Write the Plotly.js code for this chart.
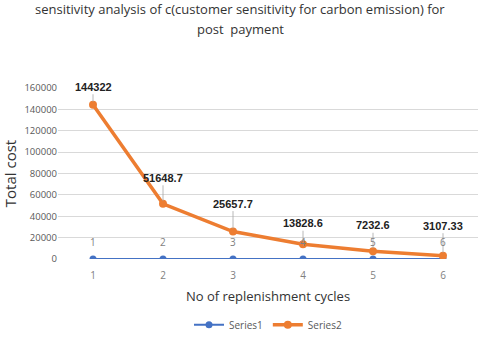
<!DOCTYPE html>
<html>
<head>
<meta charset="utf-8">
<script src="https://cdn.plot.ly/plotly-3.0.1.min.js"></script>
<style>
  html, body { margin: 0; padding: 0; background: #fff; }
  #plotArea { width: 480px; height: 340px; }
</style>
</head>
<body>
<div id="plotArea"></div>
<script>
// data
var cycles = [1, 2, 3, 4, 5, 6];
var series1 = [1, 2, 3, 4, 5, 6];
var series2 = [144322, 51648.7, 25657.7, 13828.6, 7232.6, 3107.33];
var series2Labels = ["144322", "51648.7", "25657.7", "13828.6", "7232.6", "3107.33"];
var yTicks = [0, 20000, 40000, 60000, 80000, 100000, 120000, 140000, 160000];
var titleLines = ["sensitivity analysis of c(customer sensitivity for carbon emission) for", "post  payment"];

var blue = "#4472C4";
var orange = "#ED7D31";

var trace1 = {
    x: cycles,
    y: series1,
    name: "Series1",
    mode: "lines+markers",
    type: "scatter",
    line: {color: blue, width: 2},
    marker: {color: blue, size: 7}
};

var trace2 = {
    x: cycles,
    y: series2,
    name: "Series2",
    mode: "lines+markers",
    type: "scatter",
    line: {color: orange, width: 3.5},
    marker: {color: orange, size: 8}
};

// label offsets (pixels) for the orange data labels
var offY = [-18, -26, -28, -21, -26, -30];

var annotations = [];
series2.forEach(function(v, i) {
    annotations.push({
        x: cycles[i], y: v,
        text: "<b>" + series2Labels[i] + "</b>",
        showarrow: true, arrowhead: 0, arrowwidth: 0.8, arrowcolor: "#a6a6a6",
        ax: 0, ay: offY[i], standoff: 3,
        font: {family: "Liberation Sans Narrow, Liberation Sans, sans-serif", size: 11, color: "#222"}
    });
});
series1.forEach(function(v, i) {
    annotations.push({
        x: cycles[i], y: v,
        text: String(v),
        showarrow: false, yshift: 17,
        font: {family: "Open Sans, sans-serif", size: 10, color: "#7f7f7f"}
    });
});

// chart title, one annotation per line, centred on the page
titleLines.forEach(function(t, i) {
    annotations.push({
        xref: "paper", yref: "paper",
        x: 0.5, xshift: -28, y: 1, yshift: 79 - i * 20,
        xanchor: "center", yanchor: "middle",
        showarrow: false,
        text: t,
        font: {family: "Open Sans, sans-serif", size: 13, color: "#333"}
    });
});

var layout = {
    width: 480,
    height: 340,
    margin: {l: 58, r: 2, t: 88, b: 81},
    paper_bgcolor: "#fff",
    plot_bgcolor: "#fff",
    xaxis: {
        range: [0.5, 6.5],
        tickvals: cycles,
        automargin: false,
        showgrid: false,
        zeroline: false,
        showline: false,
        ticks: "",
        ticklabelstandoff: 9,
        tickfont: {family: "Open Sans, sans-serif", size: 10, color: "#7f7f7f"},
        title: {text: "No of replenishment cycles", standoff: 10,
                font: {family: "Open Sans, sans-serif", size: 13, color: "#333"}}
    },
    yaxis: {
        range: [0, 160000],
        tickvals: yTicks,
        tickformat: "d",
        automargin: false,
        showgrid: true,
        gridcolor: "#d9d9d9",
        gridwidth: 1,
        zeroline: false,
        ticks: "",
        tickfont: {family: "Open Sans, sans-serif", size: 9.5, color: "#595959"},
        title: {text: "Total cost", standoff: 4,
                font: {family: "Open Sans, sans-serif", size: 15, color: "#333"}}
    },
    showlegend: true,
    legend: {
        orientation: "h",
        yref: "container",
        x: 0.5, xanchor: "center",
        y: 0.045, yanchor: "middle",
        font: {family: "Open Sans, sans-serif", size: 10, color: "#595959"}
    },
    annotations: annotations
};

Plotly.newPlot("plotArea", [trace1, trace2], layout, {displayModeBar: false, staticPlot: true});
</script>
</body>
</html>
